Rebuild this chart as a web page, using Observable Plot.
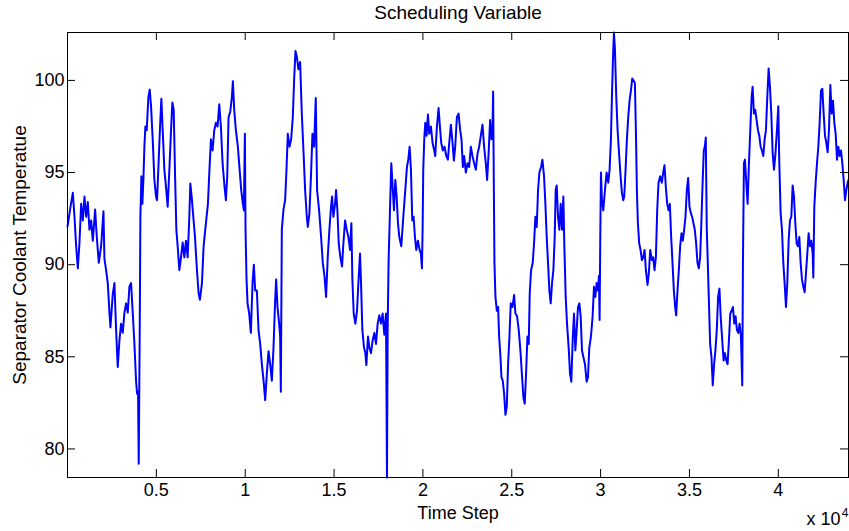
<!DOCTYPE html>
<html><head><meta charset="utf-8">
<script src="https://cdn.jsdelivr.net/npm/d3@7"></script>
<script src="https://cdn.jsdelivr.net/npm/@observablehq/plot@0.6"></script>
<style>body{margin:0;background:#fff} svg{display:block}</style>
</head><body><div id="chart"></div>
<script>
const timeStep = [
0,170,300,393,487,581,674,768,862,955,1049,1143,1236,1330,1424,1555,1648,1761,1892,2023,2079,2173,2266,2360,2416,2547,2641,2735,2828,2922,3016,3109,3203,3297,3390,3484,3578,3671,3765,3859,3915,3971,4008,4064,4102,4158,4214,4270,4327,4383,4458,4552,4627,4702,4795,4889,4983,5039,5133,5208,5282,5357,5451,5545,5638,5732,5826,5901,5976,6050,6125,6200,6294,6387,6481,6575,6668,6762,6856,6912,6987,7062,7174,
7285,7378,7453,7566,7659,7790,7903,7978,8071,8165,8259,8352,8446,8540,8633,8727,8839,8914,8989,9064,9158,9251,9307,9382,9476,9588,9682,9776,9869,9926,9982,10019,10075,10132,10225,10319,10413,10487,10562,10656,10750,10843,10937,11049,11124,11218,11312,11405,11499,11593,11686,11742,11817,11911,11967,12005,12061,12154,12248,12323,12398,12492,12585,12679,12754,12829,12904,12997,13091,13185,13278,13372,13466,13522,13615,13709,13784,13878,13971,14046,14159,14271,14365,14459,14552,
14645,14738,14832,14888,14963,15057,15113,15188,15263,15356,15450,15525,15619,15712,15806,15900,15974,16031,16106,16199,16293,16368,16461,16518,16593,16686,16761,16817,16911,16986,17080,17173,17267,17361,17454,17548,17642,17735,17829,17923,17979,18016,18072,18147,18222,18297,18372,18447,18522,18597,18672,18784,18897,19009,19102,19177,19252,19327,19402,19477,19552,19627,19720,19814,19889,19945,19983,20020,20076,20133,20208,20283,20357,20451,20545,20638,20694,20788,20882,20957,21032,21125,21219,21313,21406,21481,21575,21669,21744,21818,21912,22006,
22097,22172,22247,22322,22416,22509,22603,22697,22790,22884,22978,23071,23165,23259,23352,23446,23540,23614,23689,23783,23858,23914,23952,23989,24026,24083,24158,24233,24289,24364,24420,24495,24570,24645,24720,24794,24869,24944,25038,25132,25206,25300,25394,25487,25581,25656,25731,25806,25881,25956,26012,26087,26180,26255,26330,26405,26480,26555,26649,26724,26817,26892,26967,27042,27117,27192,27267,27342,27417,27473,27529,27604,27679,27754,27829,27904,27960,28035,28110,28203,28278,28353,28428,28503,28578,28653,28728,28803,28878,28952,29027,29121,29215,29290,
29364,29457,29551,29626,29701,29776,29851,29907,29944,29982,30019,30075,30150,30244,30338,30431,30506,30581,30637,30693,30750,30806,30881,30956,31049,31124,31199,31274,31330,31405,31480,31555,31630,31705,31780,31855,31930,31986,32042,32098,32173,32248,32323,32398,32473,32548,32641,32716,32791,32885,32960,33035,33110,33185,33259,33353,33447,33522,33597,33672,33747,33821,33896,33971,34046,34121,34196,34252,34327,34402,34477,34552,34627,34702,34777,34852,34926,35001,35076,35151,35226,35301,35376,35451,35526,35601,35657,35732,35807,35863,35919,35975,36032,36088,36163,36238,36312,36387,36462,36537,36612,36687,36762,
36921,36996,37071,37146,37222,37297,37372,37447,37522,37597,37672,37747,37822,37897,37972,38010,38066,38123,38198,38273,38348,38423,38498,38554,38629,38704,38779,38855,38930,39005,39080,39155,39230,39305,39380,39455,39530,39605,39680,39755,39830,39924,39999,40056,40131,40206,40281,40356,40431,40506,40581,40656,40732,40807,40882,40957,41032,41107,41182,41257,41332,41407,41482,41557,41632,41707,41783,41858,41933,41970,42027,42102,42177,42252,42327,42402,42477,42552,42627,42702,42777,42852,42928,43003,43078,43153,43228,43303,43378,43453,43528,43603,43678,43753,43828,43903,43950
];
const temperature = [
92.07,93.15,93.9,92.6,91.0,89.8,91.2,93.3,92.4,93.7,92.6,93.4,91.9,92.4,91.3,93.0,91.5,90.1,91.0,92.9,90.3,89.7,89.0,87.4,86.6,88.4,89.0,86.45,84.45,85.9,86.8,86.3,87.4,87.9,87.4,88.8,89.0,87.4,85.7,83.7,83.0,83.1,79.2,86.45,92.6,94.8,93.3,94.6,96.4,97.5,97.3,99.1,99.5,98.6,96.8,94.6,93.7,93.5,95.7,97.5,99.0,97.3,95.15,94.2,93.15,95.15,97.3,98.8,98.4,95.0,91.9,91.0,89.7,90.4,91.2,90.4,91.3,90.4,92.6,94.4,93.7,92.8,91.5,
89.7,88.45,88.1,89.0,91.0,92.25,93.3,94.95,96.8,96.2,97.3,97.7,97.5,98.7,97.5,95.5,94.2,93.5,94.8,98.0,98.3,99.1,99.95,98.4,97.3,96.4,95.2,94.05,93.3,92.95,97.1,91.9,89.2,87.9,87.35,86.3,89.0,90.0,88.6,88.6,86.45,85.7,84.6,83.55,82.65,84.1,85.3,84.6,83.7,85.5,88.1,89.2,87.7,86.8,86.1,83.1,91.9,93.0,93.5,95.15,97.1,96.4,96.8,98.0,100.05,101.6,101.3,100.6,101.0,98.2,96.2,94.05,92.6,92.05,92.8,95.0,97.1,96.4,99.05,94.05,92.95,91.5,90.1,89.4,88.25,
90.4,91.9,93.15,93.7,92.6,93.3,94.05,92.95,91.15,90.4,89.9,91.15,92.4,91.9,91.5,90.8,92.25,89.2,87.35,86.8,87.5,89.0,90.6,89.0,86.45,85.5,85.2,84.55,86.1,85.5,85.2,85.9,86.3,85.7,86.8,87.25,86.8,87.35,86.2,87.35,78.45,86.45,90.3,92.95,95.5,94.2,92.95,94.6,93.7,92.25,91.5,91.0,92.6,94.05,95.3,95.7,96.4,95.15,92.4,92.6,91.5,90.8,91.3,90.8,90.6,89.8,91.9,95.15,96.8,97.7,97.0,98.15,97.1,97.5,96.6,96.2,95.9,97.5,98.5,97.5,96.6,96.2,96.4,95.9,95.7,96.6,97.6,96.6,95.65,96.4,98.0,98.2,
97.3,96.8,95.3,95.9,95.0,95.5,95.3,96.4,95.9,95.5,95.15,96.0,96.4,97.0,97.6,96.4,95.5,94.6,95.9,97.85,96.8,97.1,99.4,94.6,90.1,88.25,87.5,87.7,86.1,85.0,83.9,83.7,83.0,81.85,82.3,84.6,86.1,87.9,87.7,88.35,87.35,87.2,86.45,85.35,83.9,82.8,82.45,84.1,86.1,85.7,88.45,89.7,90.1,91.15,92.6,92.05,94.05,95.0,95.3,95.7,94.8,93.3,91.5,90.1,88.6,87.9,89.0,89.7,91.5,94.05,94.3,92.6,91.9,93.3,91.9,93.7,91.0,88.25,86.8,85.5,84.1,83.65,85.9,87.35,85.35,86.45,87.7,87.9,87.2,85.35,85.0,84.6,83.65,83.9,
85.5,86.1,87.2,88.8,88.25,89.0,88.6,89.4,87.0,91.5,95.0,93.5,92.95,94.05,95.0,94.45,95.15,96.8,99.1,101.1,102.6,101.7,99.1,97.3,95.9,94.8,93.9,93.5,93.7,95.15,96.8,98.0,98.9,99.45,100.1,100.0,99.85,97.3,94.05,92.25,91.15,90.8,90.25,90.4,90.8,89.7,88.9,89.55,90.8,90.25,90.4,89.7,90.4,92.95,94.45,94.8,94.45,95.0,95.4,94.2,93.3,92.95,93.3,91.5,90.1,88.6,87.7,87.25,88.6,89.7,91.0,91.7,91.3,91.9,92.6,94.05,94.7,93.15,92.8,92.6,92.25,91.9,91.15,90.1,89.8,90.4,91.9,94.2,96.2,96.4,96.9,91.9,90.1,88.25,85.7,85.0,83.45,84.6,85.35,86.45,88.25,88.7,87.1,
84.8,85.2,84.8,84.6,85.9,87.35,87.5,87.7,86.8,87.2,86.45,86.3,86.8,86.1,83.45,90.1,95.5,95.7,94.45,93.3,95.5,97.3,99.1,99.65,98.2,98.4,97.85,97.3,97.0,96.4,96.2,95.9,96.8,97.3,99.1,100.65,99.65,98.2,96.1,95.15,95.9,97.3,98.6,95.5,92.8,91.9,90.1,89.0,87.7,89.0,91.3,92.4,92.6,94.3,93.7,92.25,91.15,91.0,91.5,90.1,89.2,88.8,88.5,89.55,90.6,91.7,91.0,91.3,90.6,89.3,93.15,94.45,95.5,96.4,97.7,99.45,99.55,98.2,97.0,96.6,96.1,97.3,99.75,98.2,98.9,97.7,97.1,95.7,96.4,95.9,96.2,95.5,94.6,93.5,94.05,94.45,94.6
];
const xTicks = [5000,10000,15000,20000,25000,30000,35000,40000];
const xTickLabels = ["0.5","1","1.5","2","2.5","3","3.5","4"];
const yTicks = [80,85,90,95,100];
const titleText = "Scheduling Variable";
const xLabel = "Time Step";
const yLabel = "Separator Coolant Temperatue";
const xExponentBase = "x 10";
const xExponent = "4";

const data = timeStep.map((t, i) => ({t, v: temperature[i]}));
const W = 849, H = 531, mL = 67, mR = 1, mT = 32, mB = 54;
const innerH = H - mT - mB, innerW = W - mL - mR;
const font = "'Liberation Sans', Arial, Helvetica, sans-serif";

const chart = Plot.plot({
  width: W, height: H,
  marginLeft: mL, marginRight: mR, marginTop: mT, marginBottom: mB,
  style: {fontFamily: font, background: "#fff", overflow: "visible", color: "#000"},
  x: {domain: [0, 43950]},
  y: {domain: [78.45, 102.6]},
  marks: [
    Plot.line(data, {x: "t", y: "v", stroke: "#0000ff", strokeWidth: 2}),
    Plot.frame({stroke: "#000", strokeWidth: 1}),
    Plot.ruleX(xTicks, {stroke: "#000", insetTop: innerH - 8}),
    Plot.ruleX(xTicks, {stroke: "#000", insetBottom: innerH - 8}),
    Plot.ruleY(yTicks, {stroke: "#000", insetRight: innerW - 8}),
    Plot.ruleY(yTicks, {stroke: "#000", insetLeft: innerW - 8}),
    Plot.axisX({ticks: xTicks, tickSize: 0, tickPadding: 6, fontSize: 18, label: null,
      tickFormat: d => xTickLabels[xTicks.indexOf(d)]}),
    Plot.axisY({ticks: yTicks, tickSize: 0, tickPadding: 3, fontSize: 18, label: null}),
    Plot.text([titleText], {frameAnchor: "top", lineAnchor: "middle", dy: -20, fontSize: 19, fill: "#000"}),
    Plot.text([xLabel], {frameAnchor: "bottom", lineAnchor: "middle", dy: 36, fontSize: 18, fill: "#000"}),
    Plot.text([xExponentBase], {frameAnchor: "bottom-right", textAnchor: "end", lineAnchor: "middle", dx: -8, dy: 42, fontSize: 18, fill: "#000"}),
    Plot.text([xExponent], {frameAnchor: "bottom-right", textAnchor: "end", lineAnchor: "middle", dx: 0, dy: 36, fontSize: 12, fill: "#000"}),
    Plot.text([yLabel], {frameAnchor: "left", textAnchor: "middle", lineAnchor: "middle", dx: -48, rotate: -90, fontSize: 19, fill: "#000"})
  ]
});
document.getElementById("chart").appendChild(chart);
</script>
</body></html>
